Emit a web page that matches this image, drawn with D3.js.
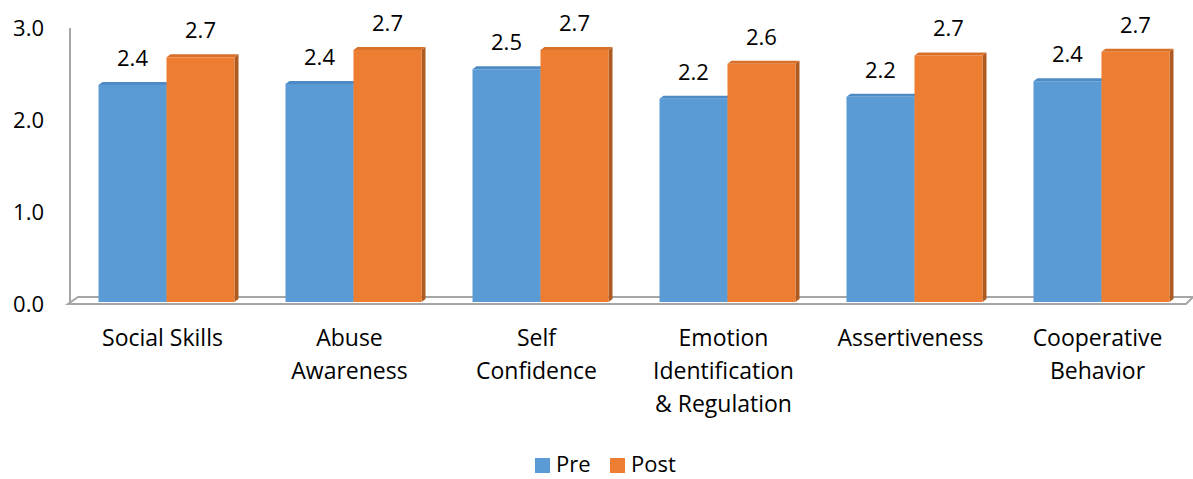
<!DOCTYPE html>
<html><head><meta charset="utf-8">
<script src="https://cdn.jsdelivr.net/npm/d3@7"></script>
<style>body{margin:0;background:#fff}svg{display:block}text{font-family:"Open Sans",Lato,sans-serif;fill:#000}</style>
</head><body>
<svg id="c" width="1193" height="479"></svg>
<script>
const categories = [["Social Skills"],["Abuse","Awareness"],["Self","Confidence"],["Emotion","Identification","& Regulation"],["Assertiveness"],["Cooperative","Behavior"]];
const series = ["Pre","Post"];
const preValues = [2.36, 2.37, 2.53, 2.21, 2.23, 2.40];
const postValues = [2.66, 2.74, 2.74, 2.59, 2.68, 2.72];
const yTicks = [0, 1, 2, 3];

const colors = {Pre:{front:"#5B9BD5", side:"#41719C", top:"#4E8AC4"}, Post:{front:"#ED7D31", side:"#AE5A21", top:"#D9702A"}};
const svg = d3.select("#c");
const keys = categories.map(c => c.join(" "));
const x = d3.scaleBand().domain(keys).range([73, 1195]).paddingInner(0.2727).paddingOuter(0.1364);
const xs = d3.scaleBand().domain(series).range([0, x.bandwidth()]);
const y = d3.scaleLinear().domain([0, 3]).range([302, 26]);
const dx = 4, dy = 3;
const fs = 22;

// wall axis line
svg.append("line").attr("x1",70).attr("x2",70).attr("y1",y(3)+2).attr("y2",304).attr("stroke","#A6A6A6").attr("stroke-width",2);
// floor
svg.append("path").attr("d",`M68,304 L1186,304 L1193,297 L78,297 Z`).attr("fill","#fff").attr("stroke","#A6A6A6").attr("stroke-width",2);

// y tick labels
svg.append("g").selectAll("text").data(yTicks).join("text")
  .attr("x",44).attr("y",d=>y(d)+4).attr("text-anchor","end").attr("dominant-baseline","middle")
  .attr("font-size",fs).text(d3.format(".1f"));

const data = [];
keys.forEach((k,i)=>{ data.push({k, s:"Pre", v:preValues[i]}); data.push({k, s:"Post", v:postValues[i]}); });

const bars = svg.append("g").selectAll("g").data(data).join("g");
bars.each(function(d){
  const g = d3.select(this);
  const x0 = x(d.k) + xs(d.s), w = xs.bandwidth(), yt = y(d.v), yb = y(0);
  const c = colors[d.s];
  g.append("path").attr("d",`M${x0+w},${yt} L${x0+w+dx},${yt-dy} L${x0+w+dx},${yb-dy} L${x0+w},${yb} Z`).attr("fill",c.side);
  g.append("path").attr("d",`M${x0},${yt} L${x0+dx},${yt-dy} L${x0+w+dx},${yt-dy} L${x0+w},${yt} Z`).attr("fill",c.top);
  g.append("rect").attr("x",x0).attr("y",yt).attr("width",w).attr("height",yb-yt).attr("fill",c.front);
  g.append("text").attr("x",x0+w/2).attr("y",yt-25).attr("text-anchor","middle").attr("dominant-baseline","middle")
    .attr("font-size",fs).text(d3.format(".1f")(Math.floor(d.v*10+0.5)/10));
});

// x labels
const xl = svg.append("g").selectAll("text").data(categories).join("text")
  .attr("x",(d,i)=>x(keys[i])+x.bandwidth()/2-4).attr("y",340).attr("text-anchor","middle").attr("font-size",23);
xl.each(function(d){
  const t = d3.select(this);
  d.forEach((line,j)=>t.append("tspan").attr("x",t.attr("x")).attr("y",340+j*33).attr("dominant-baseline","middle").text(line));
});

// legend
const lg = svg.append("g").selectAll("g").data(series).join("g").attr("transform",(d,i)=>`translate(${535+i*75},0)`);
lg.append("rect").attr("x",0).attr("y",458).attr("width",15).attr("height",15).attr("fill",d=>colors[d].front);
lg.append("text").attr("x",21).attr("y",466).attr("dominant-baseline","middle").attr("font-size",fs).text(d=>d);
</script>
</body></html>
